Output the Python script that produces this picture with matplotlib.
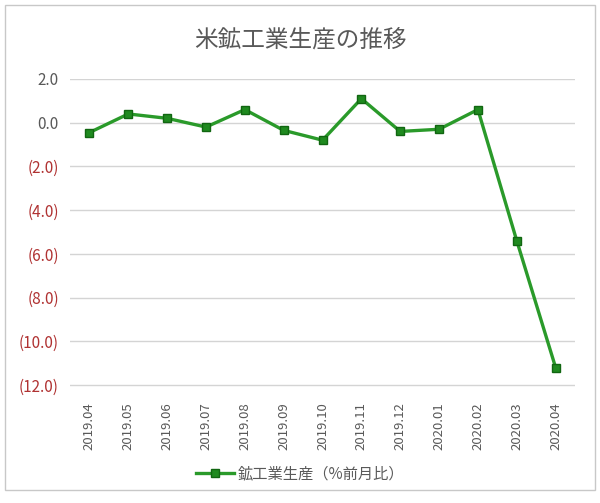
import matplotlib.pyplot as plt
from matplotlib.patches import Rectangle
from matplotlib.ticker import FuncFormatter

plt.rcParams['font.family'] = ['Noto Sans CJK JP', 'DejaVu Sans']

months = ['2019.04', '2019.05', '2019.06', '2019.07', '2019.08', '2019.09', '2019.10',
          '2019.11', '2019.12', '2020.01', '2020.02', '2020.03', '2020.04']
values = [-0.45, 0.4, 0.2, -0.2, 0.6, -0.35, -0.8, 1.1, -0.4, -0.3, 0.6, -5.4, -11.2]
yticks = [2, 0, -2, -4, -6, -8, -10, -12]

fig = plt.figure(figsize=(6, 5.03), dpi=100)
fig.patch.set_facecolor('white')
fig.patches.append(Rectangle((0.008, 0.025), 0.983, 0.965, transform=fig.transFigure,
                             fill=False, edgecolor='#c8c8c8', linewidth=1))

ax = fig.add_axes([0.1167, 0.228, 0.8417, 0.615])
x = list(range(len(months)))
ax.plot(x, values, color='#2a9a2a', linewidth=2.4, marker='s', markersize=6,
        markerfacecolor='#1f8a1f', markeredgecolor='#116611', label='鉱工業生産（%前月比）',
        zorder=3)

ax.set_xlim(-0.5, len(months) - 0.5)
ax.set_ylim(-12.15, 2.0)
ax.set_yticks(yticks)
ax.yaxis.set_major_formatter(FuncFormatter(lambda v, p: f'{v:.1f}' if v >= 0 else f'({-v:.1f})'))
ax.set_xticks(x)
ax.set_xticklabels(months, rotation=90, fontsize=9.5, color='#595959')
ax.tick_params(axis='both', length=0, pad=8)
ax.tick_params(axis='x', pad=10)
ax.tick_params(axis='y', labelsize=11)
for lbl, v in zip(ax.get_yticklabels(), yticks):
    lbl.set_color('#595959' if v >= 0 else '#b03232')

ax.grid(axis='y', color='#d4d4d4', linewidth=1)
ax.set_axisbelow(True)
for s in ax.spines.values():
    s.set_visible(False)

fig.text(0.5, 0.92, '米鉱工業生産の推移', ha='center', va='center', fontsize=17, color='#595959')
fig.legend(loc='center', bbox_to_anchor=(0.5, 0.058), frameon=False, fontsize=11,
           labelcolor='#595959', handlelength=2.5, handletextpad=0.2)

fig.savefig('out.png', dpi=100)
